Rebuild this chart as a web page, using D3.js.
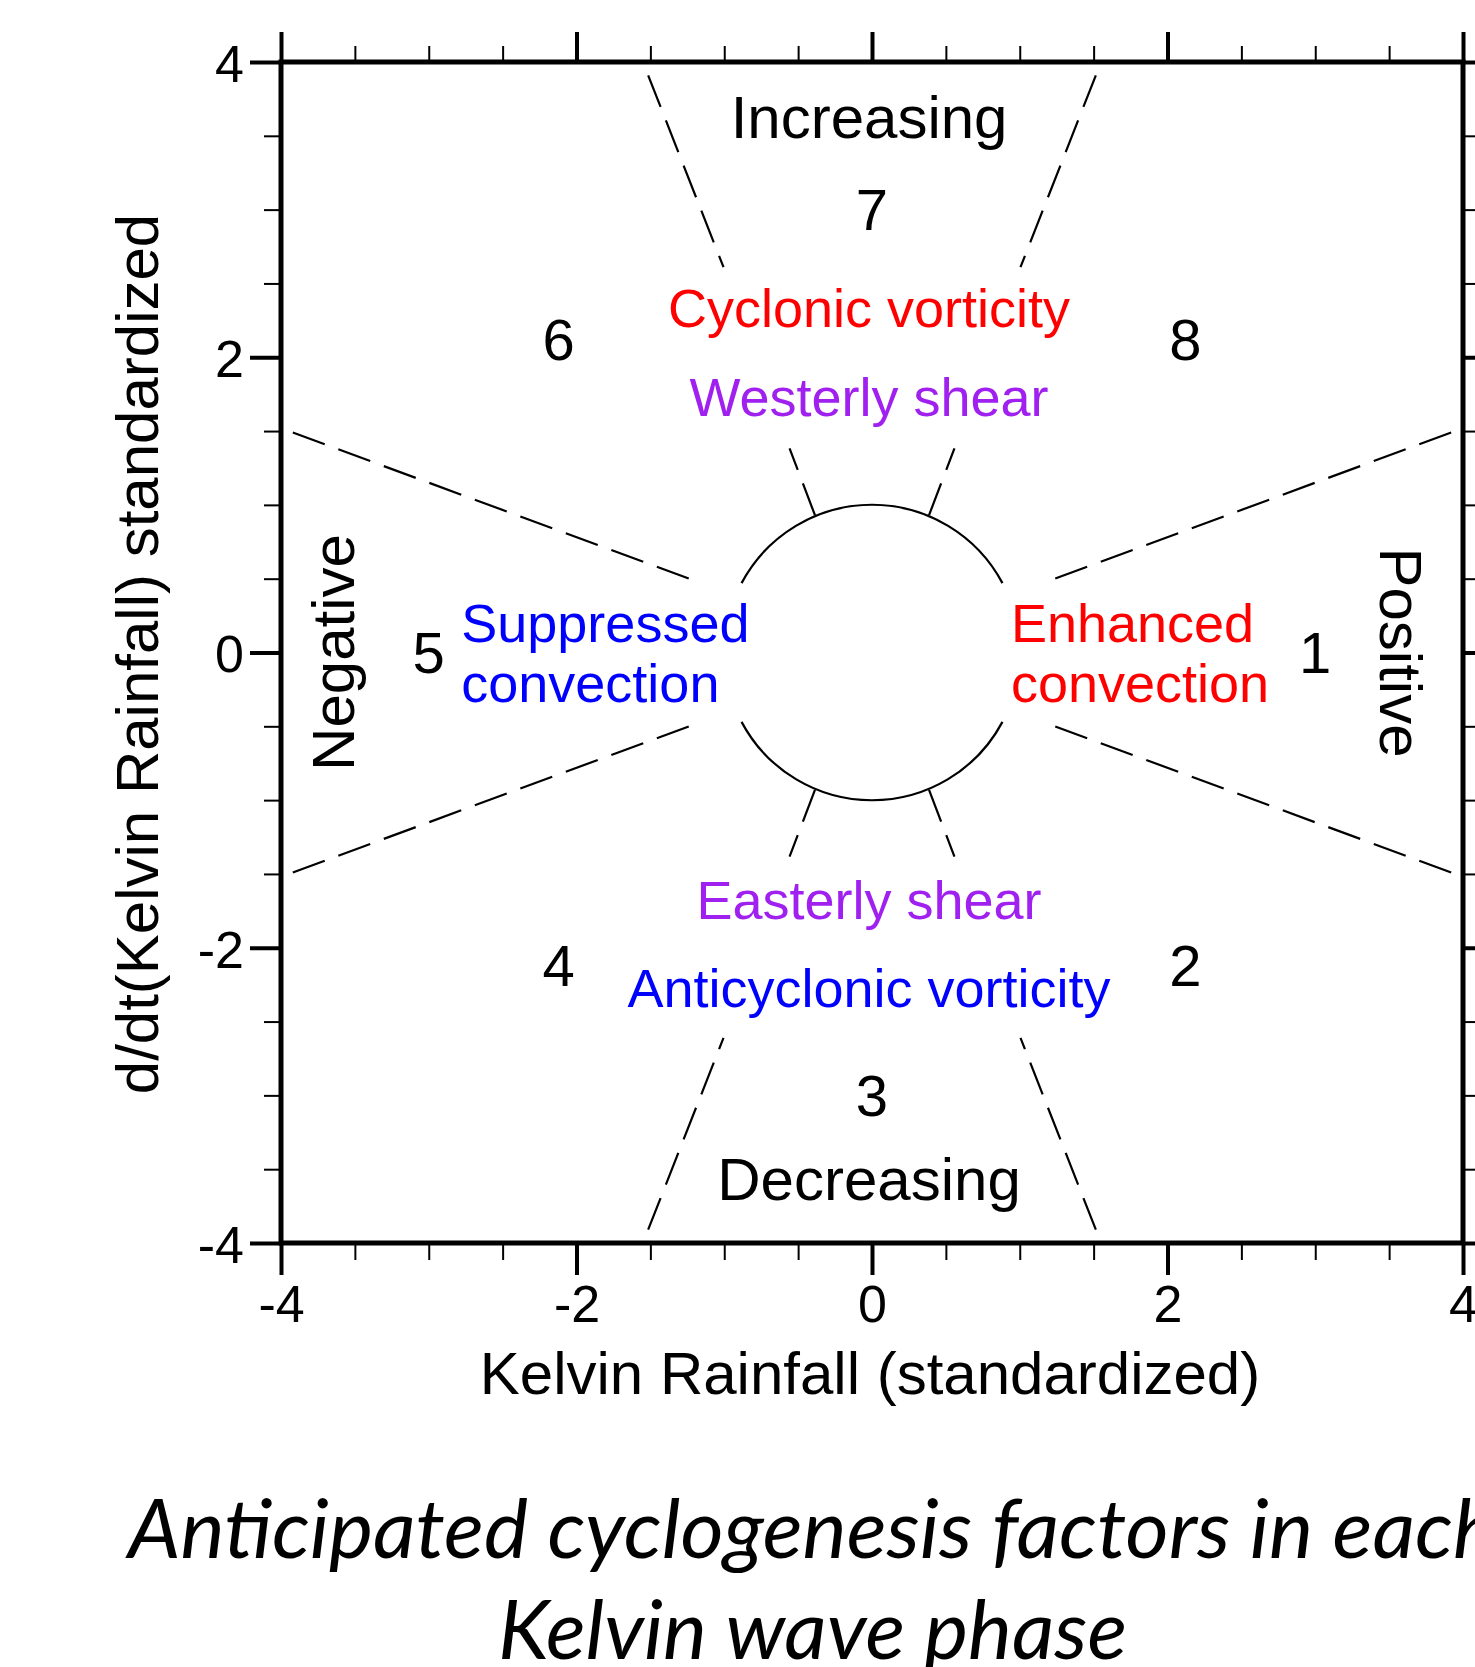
<!DOCTYPE html>
<html><head><meta charset="utf-8">
<script src="https://cdn.jsdelivr.net/npm/d3@7"></script>
<style>body{margin:0;background:#fff;} svg{display:block;}</style>
</head><body>
<script>
// ---------- data ----------
const xMajor = [-4, -2, 0, 2, 4];
const yMajor = [-4, -2, 0, 2, 4];
const minorTicks = [-3.5, -3, -2.5, -1.5, -1, -0.5, 0.5, 1, 1.5, 2.5, 3, 3.5];
const tickLabels = ["-4", "-2", "0", "2", "4"];

const phaseNumbers = ["1", "8", "7", "6", "5", "4", "3", "2"];
const phaseAngles = [0, 45, 90, 135, 180, 225, 270, 315];
const phaseRadius = 3;

const centerLabels = ["Increasing", "Cyclonic vorticity", "Westerly shear", "Easterly shear", "Anticyclonic vorticity", "Decreasing"];
const centerLabelX = -0.02;
const centerLabelY = [3.486, 2.205, 1.602, -1.805, -2.402, -3.709];
const centerLabelKind = ["plain", "red", "purple", "purple", "blue", "plain"];

const sideLabels = ["Suppressed", "convection", "Enhanced", "convection"];
const sideLabelX = [-2.78, -2.78, 0.94, 0.94];
const sideLabelY = [0.071, -0.335, 0.071, -0.335];
const sideLabelKind = ["blue", "blue", "red", "red"];

const edgeLabels = ["Negative", "Positive"];
const edgeLabelX = [-3.505, 3.438];

// dashed sector boundaries: [start point, end point] in data units
const dashSegments = [
  [[-3.92, 1.49], [-1.225, 0.495]], [[3.92, 1.49], [1.225, 0.495]],
  [[-3.92, -1.49], [-1.225, -0.495]], [[3.92, -1.49], [1.225, -0.495]],
  [[-1.515, 3.91], [-1.005, 2.61]], [[1.515, 3.91], [1.005, 2.61]],
  [[-1.515, -3.91], [-1.005, -2.61]], [[1.515, -3.91], [1.005, -2.61]],
  [[-0.386, 0.93], [-0.558, 1.383]], [[0.386, 0.93], [0.558, 1.383]],
  [[-0.386, -0.93], [-0.558, -1.383]], [[0.386, -0.93], [0.558, -1.383]]
];
const circleRadius = 1;
const circleArcs = [[28, 152], [208, 332]]; // degrees, math convention

const xTitle = "Kelvin Rainfall (standardized)";
const yTitle = "d/dt(Kelvin Rainfall) standardized";
const captionLines = ["Anticipated cyclogenesis factors in each", "Kelvin wave phase"];

// ---------- drawing ----------
const W = 1475, H = 1667;
const FONT = "'Liberation Sans', Arial, Helvetica, sans-serif";
const colors = {plain: "#000000", red: "#ff0000", blue: "#0000ff", purple: "#a020f0"};

const svg = d3.select("body").append("svg").attr("width", W).attr("height", H)
  .style("font-family", FONT);

const x = d3.scaleLinear().domain([-4, 4]).range([281, 1463]);
const y = d3.scaleLinear().domain([-4, 4]).range([1243, 62]);

function styleAxis(g, major) {
  g.select(".domain").remove();
  g.selectAll(".tick line").attr("stroke", "#000").attr("stroke-width", major ? 4 : 2);
  g.selectAll(".tick text").attr("fill", "#000").style("font-size", "52px").style("font-family", FONT);
}

// major + minor ticks on all 4 sides
svg.append("g").attr("transform", `translate(0,${y(-4)})`)
  .call(d3.axisBottom(x).tickValues(xMajor).tickFormat((d, i) => tickLabels[i]).tickSize(32).tickPadding(10).tickSizeOuter(0))
  .call(g => styleAxis(g, true));
svg.append("g").attr("transform", `translate(0,${y(-4)})`)
  .call(d3.axisBottom(x).tickValues(minorTicks).tickFormat("").tickSize(17).tickSizeOuter(0))
  .call(g => styleAxis(g, false));
svg.append("g").attr("transform", `translate(0,${y(4)})`)
  .call(d3.axisTop(x).tickValues(xMajor).tickFormat("").tickSize(30).tickSizeOuter(0))
  .call(g => styleAxis(g, true));
svg.append("g").attr("transform", `translate(0,${y(4)})`)
  .call(d3.axisTop(x).tickValues(minorTicks).tickFormat("").tickSize(16).tickSizeOuter(0))
  .call(g => styleAxis(g, false));
svg.append("g").attr("transform", `translate(${x(-4)},0)`)
  .call(d3.axisLeft(y).tickValues(yMajor).tickFormat((d, i) => tickLabels[i]).tickSize(31).tickPadding(6).tickSizeOuter(0))
  .call(g => { styleAxis(g, true); g.selectAll(".tick text").attr("dy", "0.37em"); });
svg.append("g").attr("transform", `translate(${x(-4)},0)`)
  .call(d3.axisLeft(y).tickValues(minorTicks).tickFormat("").tickSize(17).tickSizeOuter(0))
  .call(g => styleAxis(g, false));
svg.append("g").attr("transform", `translate(${x(4)},0)`)
  .call(d3.axisRight(y).tickValues(yMajor).tickFormat("").tickSize(31).tickSizeOuter(0))
  .call(g => styleAxis(g, true));
svg.append("g").attr("transform", `translate(${x(4)},0)`)
  .call(d3.axisRight(y).tickValues(minorTicks).tickFormat("").tickSize(17).tickSizeOuter(0))
  .call(g => styleAxis(g, false));

// frame
svg.append("rect")
  .attr("x", x(-4)).attr("y", y(4))
  .attr("width", x(4) - x(-4)).attr("height", y(-4) - y(4))
  .attr("fill", "none").attr("stroke", "#000").attr("stroke-width", 5);

// dashed lines
svg.append("g").selectAll("line").data(dashSegments).join("line")
  .attr("x1", d => x(d[0][0])).attr("y1", d => y(d[0][1]))
  .attr("x2", d => x(d[1][0])).attr("y2", d => y(d[1][1]))
  .attr("stroke", "#000").attr("stroke-width", 2.2)
  .attr("stroke-dasharray", "34,14.5");

// circle arcs
const cx0 = x(0), cy0 = y(0), rPix = x(circleRadius) - x(0);
svg.append("g").selectAll("path").data(circleArcs).join("path")
  .attr("d", d => {
    const p = d3.path();
    const a0 = -d[0] * Math.PI / 180, a1 = -d[1] * Math.PI / 180;
    p.arc(cx0, cy0, rPix, a0, a1, true);
    return p.toString();
  })
  .attr("fill", "none").attr("stroke", "#000").attr("stroke-width", 2.2);

// phase numbers
svg.append("g").selectAll("text").data(phaseNumbers).join("text")
  .attr("x", (d, i) => x(phaseRadius * Math.cos(phaseAngles[i] * Math.PI / 180)))
  .attr("y", (d, i) => y(phaseRadius * Math.sin(phaseAngles[i] * Math.PI / 180)))
  .attr("dy", "0.358em")
  .attr("text-anchor", "middle")
  .style("font-size", "58px")
  .text(d => d);

// center labels
svg.append("g").selectAll("text").data(centerLabels).join("text")
  .attr("x", x(centerLabelX))
  .attr("y", (d, i) => y(centerLabelY[i]))
  .attr("text-anchor", "middle")
  .attr("fill", (d, i) => colors[centerLabelKind[i]])
  .style("font-size", (d, i) => centerLabelKind[i] === "plain" ? "60px" : "54px")
  .text(d => d);

// side labels
svg.append("g").selectAll("text").data(sideLabels).join("text")
  .attr("x", (d, i) => x(sideLabelX[i]))
  .attr("y", (d, i) => y(sideLabelY[i]))
  .attr("text-anchor", "start")
  .attr("fill", (d, i) => colors[sideLabelKind[i]])
  .style("font-size", "54px")
  .text(d => d);

// Negative / Positive
svg.append("g").selectAll("text").data(edgeLabels).join("text")
  .attr("transform", (d, i) => `translate(${x(edgeLabelX[i])},${y(0)}) rotate(${i === 0 ? -90 : 90})`)
  .attr("text-anchor", "middle")
  .style("font-size", "60px")
  .text(d => d);

// axis titles
svg.append("text")
  .attr("x", 870).attr("y", 1394)
  .attr("text-anchor", "middle")
  .style("font-size", "60px")
  .text(xTitle);
svg.append("text")
  .attr("transform", `translate(158,654) rotate(-90)`)
  .attr("text-anchor", "middle")
  .style("font-size", "60px")
  .text(yTitle);

// caption
const capX = [128, 498], capY = [1558, 1659], capLen = [1369, 629];
svg.append("g").selectAll("text").data(captionLines).join("text")
  .attr("x", (d, i) => capX[i]).attr("y", (d, i) => capY[i])
  .attr("textLength", (d, i) => capLen[i])
  .attr("lengthAdjust", "spacingAndGlyphs")
  .style("font-family", "Lato, 'Open Sans', sans-serif")
  .style("font-style", "italic")
  .style("font-size", "82px")
  .text(d => d);
</script>
</body></html>
